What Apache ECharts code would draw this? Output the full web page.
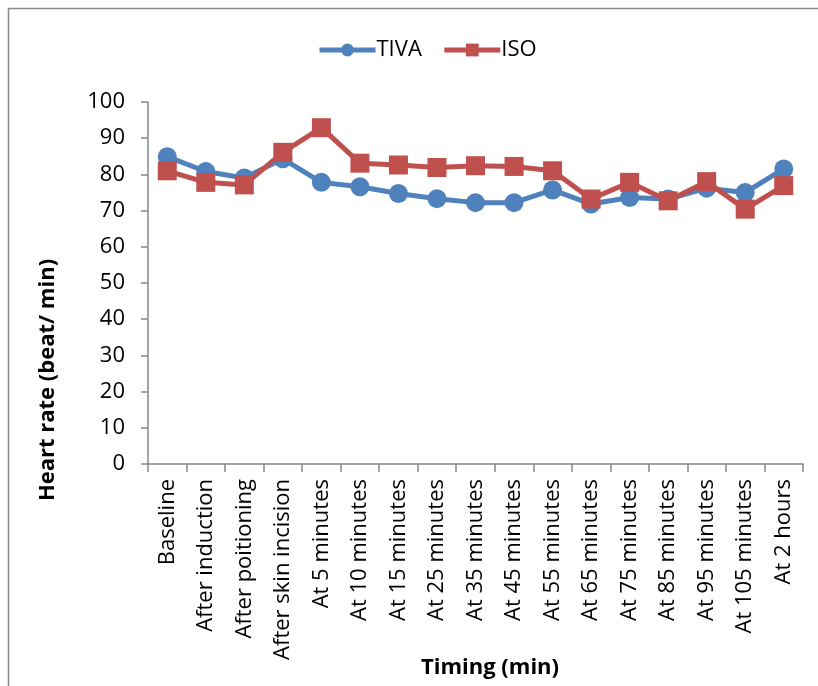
<!DOCTYPE html>
<html><head><meta charset="utf-8">
<script src="https://cdn.jsdelivr.net/npm/echarts@6/dist/echarts.min.js"></script>
<style>html,body{margin:0;padding:0;background:#fff}#c{width:818px;height:686px}</style>
</head><body><div id="c"></div>
<script>
const categories = ["Baseline","After induction","After poitioning","After skin incision","At 5 minutes","At 10 minutes","At 15 minutes","At 25 minutes","At 35 minutes","At 45 minutes","At 55 minutes","At 65 minutes","At 75 minutes","At 85 minutes","At 95 minutes","At 105 minutes","At 2 hours"];
const tiva = [84.9,80.8,79.0,84.3,77.8,76.6,74.7,73.3,72.2,72.2,75.7,71.8,73.6,73.2,76.2,75.0,81.5];
const iso  = [81.0,77.8,77.1,86.1,92.9,83.1,82.6,81.9,82.4,82.2,81.0,73.2,77.8,72.7,78.0,70.4,76.9];
const yTicks = [0,10,20,30,40,50,60,70,80,90,100];

const FONT = '"Open Sans", sans-serif';
const chart = echarts.init(document.getElementById('c'));
chart.setOption({
  animation:false,
  textStyle:{fontFamily:FONT},
  graphic:[
    {type:'rect',shape:{x:8.5,y:8.5,width:900,height:900},style:{fill:'none',stroke:'#888',lineWidth:1.5},silent:true},
    {type:'text',x:48,y:380,rotation:Math.PI/2,style:{text:'Heart rate (beat/ min)',font:'bold 22px '+FONT,fill:'#000',align:'center',verticalAlign:'middle'}},
    {type:'text',x:490,y:668,style:{text:'Timing (min)',font:'bold 22px '+FONT,fill:'#000',align:'center',verticalAlign:'middle'}}
  ],
  legend:{
    top:34,left:312,itemWidth:56,itemHeight:16,itemGap:20,
    lineStyle:{width:5},
    textStyle:{fontSize:22,color:'#000',fontFamily:FONT,padding:[0,0,0,-4]},
    data:['TIVA','ISO']
  },
  grid:{left:148,top:102,right:15,bottom:222,containLabel:false},
  xAxis:{
    type:'category',data:categories,boundaryGap:true,
    axisLine:{lineStyle:{color:'#868686',width:1.5}},
    axisTick:{show:true,length:8,inside:false,alignWithLabel:false,lineStyle:{color:'#868686',width:1.5}},
    axisLabel:{rotate:90,interval:0,fontSize:22,color:'#000',fontFamily:FONT,margin:15}
  },
  yAxis:{
    type:'value',min:0,max:100,interval:10,
    axisLine:{show:true,lineStyle:{color:'#868686',width:1.5}},
    axisTick:{show:true,length:7,lineStyle:{color:'#868686',width:1.5}},
    splitLine:{show:false},
    axisLabel:{fontSize:22,color:'#000',fontFamily:FONT,margin:23,
      formatter:v=>yTicks.includes(v)?String(v):''}
  },
  series:[
    {name:'TIVA',type:'line',data:tiva,symbol:'circle',symbolSize:19,
      lineStyle:{color:'#4F81BD',width:5},itemStyle:{color:'#4F81BD'}},
    {name:'ISO',type:'line',data:iso,symbol:'rect',symbolSize:19,
      lineStyle:{color:'#C0504D',width:5},itemStyle:{color:'#C0504D'}}
  ]
});
</script></body></html>
